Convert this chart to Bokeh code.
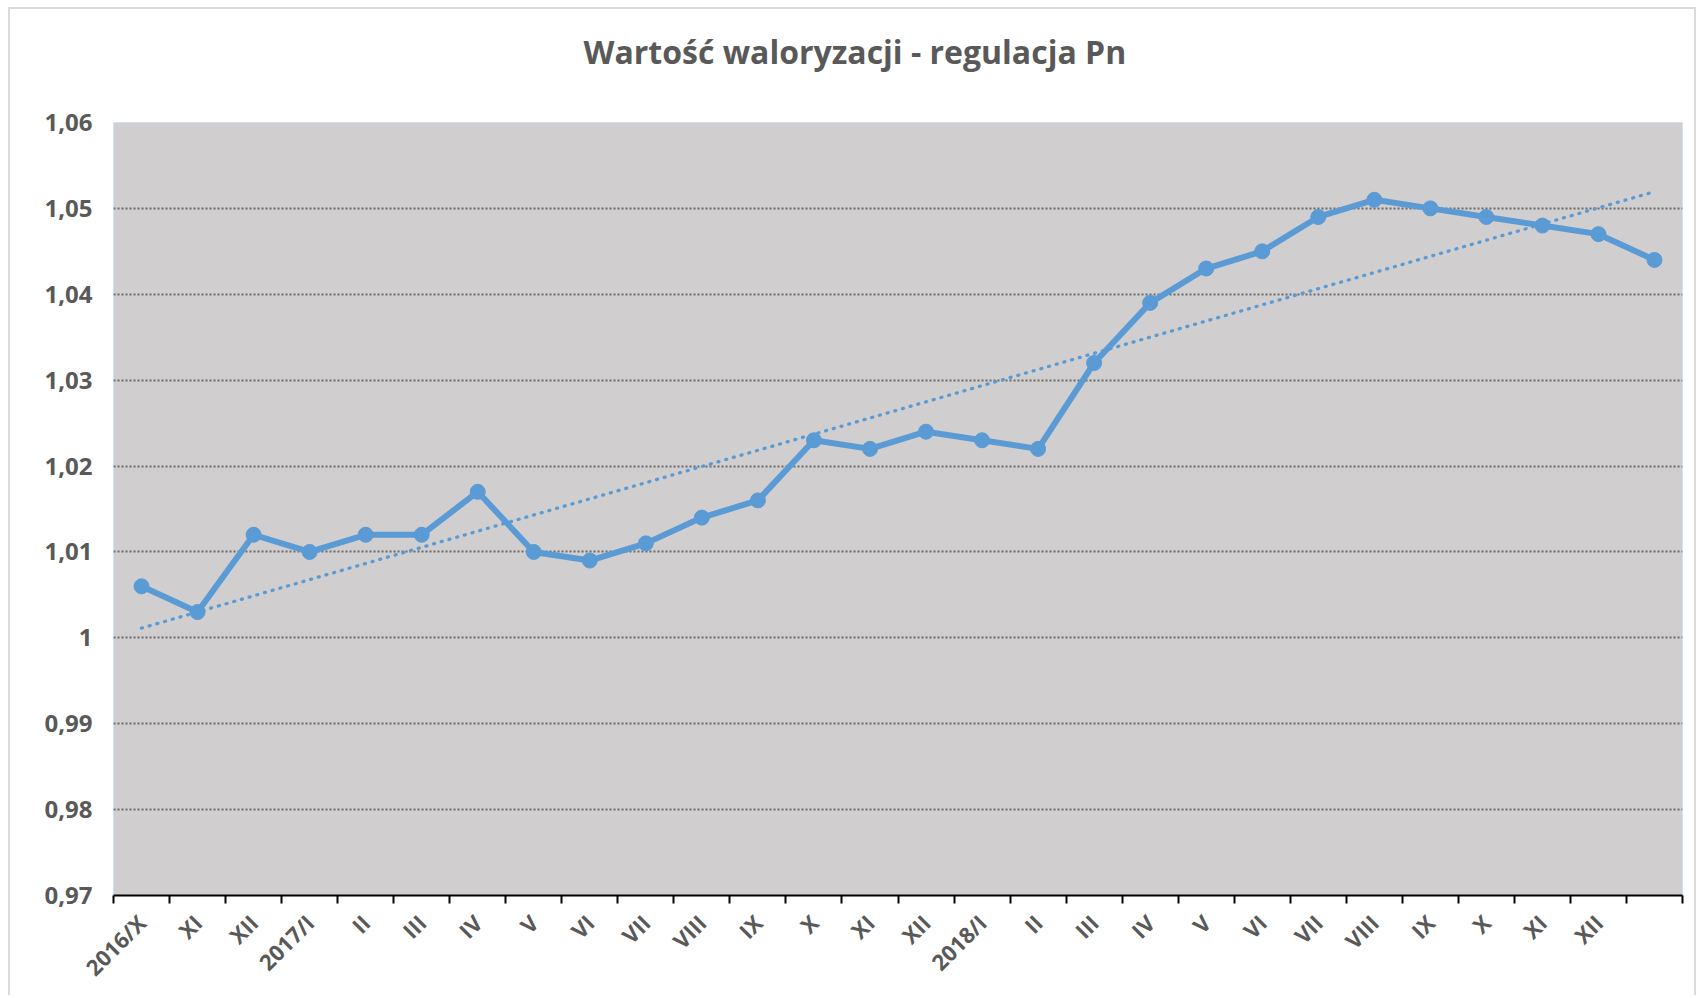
import numpy as np
from bokeh.plotting import figure
from bokeh.models import FixedTicker, Range1d, LinearAxis
from bokeh.embed import file_html
from bokeh.resources import INLINE

# ---- data ----
months = ["2016/X", "XI", "XII", "2017/I", "II", "III", "IV", "V", "VI", "VII",
          "VIII", "IX", "X", "XI", "XII", "2018/I", "II", "III", "IV", "V",
          "VI", "VII", "VIII", "IX", "X", "XI", "XII", ""]
values = [1.006, 1.003, 1.012, 1.010, 1.012, 1.012, 1.017, 1.010, 1.009, 1.011,
          1.014, 1.016, 1.023, 1.022, 1.024, 1.023, 1.022, 1.032, 1.039, 1.043,
          1.045, 1.049, 1.051, 1.050, 1.049, 1.048, 1.047, 1.044]
y_ticks = [0.97, 0.98, 0.99, 1.00, 1.01, 1.02, 1.03, 1.04, 1.05, 1.06]
y_tick_labels = ["0,97", "0,98", "0,99", "1", "1,01", "1,02", "1,03", "1,04", "1,05", "1,06"]
title_text = "Wartość waloryzacji - regulacja Pn"

positions = list(range(1, len(months) + 1))
coef = np.polyfit(positions, values, 1)
trend_x = [positions[0], positions[-1]]
trend_y = [float(np.polyval(coef, x)) for x in trend_x]

TXT = "#595959"
BLUE = "#5B9BD5"
FONT = "Open Sans"

p = figure(width=1688, height=988,
           x_range=Range1d(0.5, len(months) + 0.5),
           y_range=Range1d(y_ticks[0], y_ticks[-1]),
           output_backend="svg", toolbar_location=None,
           min_border_left=103, min_border_right=16,
           min_border_top=113, min_border_bottom=102)
p.styles = {"margin-left": "8px", "margin-top": "7px",
            "border-left": "2px solid #dadada",
            "border-top": "2px solid #dadada",
            "border-right": "2px solid #dadada"}

p.background_fill_color = "#D0CECE"
p.border_fill_color = "white"
p.outline_line_color = "#cfe2f3"
p.outline_line_width = 1

xa = p.below[0]
ya = p.left[0]

# invisible spacer axis between the frame and the title (one hidden tick)
spacer = LinearAxis(ticker=FixedTicker(ticks=[positions[0]]),
                    major_label_overrides={positions[0]: ""},
                    axis_line_color=None,
                    major_tick_line_color=None, minor_tick_line_color=None,
                    major_tick_out=45, major_tick_in=0,
                    minor_tick_out=0, minor_tick_in=0,
                    major_label_standoff=0, major_label_text_font_size="1px",
                    major_label_text_color=None)
p.add_layout(spacer, "above")

# title
p.title.text = title_text
p.title.text_font = FONT
p.title.text_font_size = "32px"
p.title.text_font_style = "bold"
p.title.text_color = TXT
p.title.align = "left"
p.title.offset = 470
p.title.standoff = 10

# grid
p.xgrid.visible = False
p.ygrid.ticker = FixedTicker(ticks=y_ticks[1:-1])
p.ygrid.grid_line_color = "#6a6a6a"
p.ygrid.grid_line_dash = "2 2"
p.ygrid.grid_line_width = 2

# y axis
ya.ticker = FixedTicker(ticks=y_ticks)
ya.major_label_overrides = {t: l for t, l in zip(y_ticks, y_tick_labels)}
ya.axis_line_color = None
ya.major_tick_line_color = None
ya.minor_tick_line_color = None
ya.major_label_standoff = 15
ya.major_label_text_font = FONT
ya.major_label_text_font_size = "24px"
ya.major_label_text_font_style = "bold"
ya.major_label_text_color = TXT

# x axis
xa.ticker = FixedTicker(ticks=positions,
                        minor_ticks=[i + 0.5 for i in range(0, len(months) + 1)])
xa.major_label_overrides = {x: l for x, l in zip(positions, months)}
xa.axis_line_color = "black"
xa.axis_line_width = 2
xa.major_tick_line_color = None
xa.major_tick_out = 0
xa.major_tick_in = 0
xa.minor_tick_line_color = "black"
xa.minor_tick_line_width = 2
xa.minor_tick_out = 8
xa.minor_tick_in = 0
xa.major_label_orientation = np.pi / 4
xa.major_label_standoff = 15
xa.major_label_text_font = FONT
xa.major_label_text_font_size = "22px"
xa.major_label_text_font_style = "bold"
xa.major_label_text_color = TXT

# series
p.line(trend_x, trend_y, line_color=BLUE, line_width=3.3, line_dash="1 7",
       line_cap="round")
p.line(positions, values, line_color=BLUE, line_width=6, line_join="round")
p.scatter(positions, values, size=15, color=BLUE)

open("out.html", "w").write(file_html(p, INLINE))
